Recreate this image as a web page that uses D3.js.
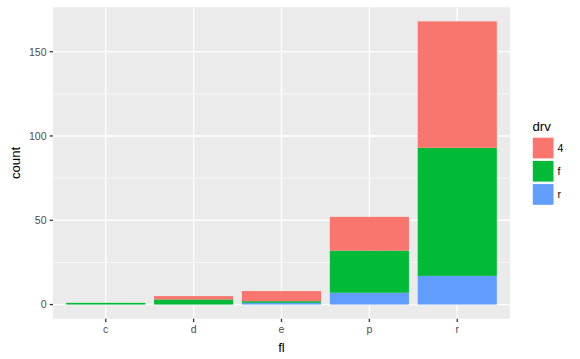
<!DOCTYPE html>
<html>
<head>
  <meta charset="utf-8">
  <title>Stacked bar: fl by drv</title>
  <style>
    html, body { margin: 0; padding: 0; background: #fff; }
    svg { display: block; font-family: "Liberation Sans", Arial, sans-serif; }
    .tick-label { font-size: 10.5px; fill: #4d4d4d; }
    .axis-title { font-size: 13.2px; fill: #000; }
  </style>
</head>
<body>
  <div id="chart"></div>
  <script src="https://d3js.org/d3.v7.min.js"></script>
  <script>
    // Data: counts of fuel type (fl) by drive train (drv)
    const fuels = ["c", "d", "e", "p", "r"];
    const drvLevels = ["4", "f", "r"];
    const count4 = [0, 2, 6, 20, 75];
    const countF = [1, 3, 1, 25, 76];
    const countR = [0, 0, 1, 7, 17];
    const yTicks = [0, 50, 100, 150];
    const yMinor = [25, 75, 125];

    const colors = { "4": "#F8766D", "f": "#00BA38", "r": "#619CFF" };

    const W = 580, H = 359;
    const panel = { left: 53, top: 7.2, right: 510, bottom: 318.7 };
    const tickLen = 3.3;

    const svg = d3.select("#chart").append("svg")
      .attr("width", W).attr("height", H);

    // Build rows and stack (ggplot puts first level on top)
    const rows = fuels.map((f, i) => ({ fl: f, "4": count4[i], "f": countF[i], "r": countR[i] }));
    const stack = d3.stack().keys(["r", "f", "4"]);
    const series = stack(rows);
    const maxTotal = d3.max(rows, d => d["4"] + d.f + d.r);

    const pad = maxTotal * 0.05;
    const y = d3.scaleLinear()
      .domain([-pad, maxTotal + pad])
      .range([panel.bottom, panel.top]);

    // discrete axis with 0.6 expansion each side
    const n = fuels.length;
    const x = d3.scaleLinear()
      .domain([0.4, n + 0.6])
      .range([panel.left, panel.right]);
    const barW = x(1.9) - x(1);

    // Panel background
    svg.append("rect")
      .attr("x", panel.left).attr("y", panel.top)
      .attr("width", panel.right - panel.left)
      .attr("height", panel.bottom - panel.top)
      .attr("fill", "#EBEBEB");

    // Grid lines
    svg.selectAll("line.minor").data(yMinor).enter().append("line")
      .attr("x1", panel.left).attr("x2", panel.right)
      .attr("y1", d => y(d)).attr("y2", d => y(d))
      .attr("stroke", "#fff").attr("stroke-width", 0.65);
    svg.selectAll("line.majory").data(yTicks).enter().append("line")
      .attr("x1", panel.left).attr("x2", panel.right)
      .attr("y1", d => y(d)).attr("y2", d => y(d))
      .attr("stroke", "#fff").attr("stroke-width", 1.3);
    svg.selectAll("line.majorx").data(fuels).enter().append("line")
      .attr("x1", (d, i) => x(i + 1)).attr("x2", (d, i) => x(i + 1))
      .attr("y1", panel.top).attr("y2", panel.bottom)
      .attr("stroke", "#fff").attr("stroke-width", 1.3);

    // Bars
    series.forEach(s => {
      svg.append("g").selectAll("rect").data(s).enter().append("rect")
        .attr("x", (d, i) => x(i + 1) - barW / 2)
        .attr("width", barW)
        .attr("y", d => y(d[1]))
        .attr("height", d => Math.max(0, y(d[0]) - y(d[1])))
        .attr("fill", colors[s.key]);
    });

    // Y axis ticks and labels
    const yAxis = svg.append("g");
    yAxis.selectAll("line").data(yTicks).enter().append("line")
      .attr("x1", panel.left - tickLen).attr("x2", panel.left)
      .attr("y1", d => y(d)).attr("y2", d => y(d))
      .attr("stroke", "#333").attr("stroke-width", 1.3);
    yAxis.selectAll("text").data(yTicks).enter().append("text")
      .attr("class", "tick-label")
      .attr("x", panel.left - tickLen - 3.2).attr("y", d => y(d) + 3.8)
      .attr("text-anchor", "end")
      .text(d => d);

    // X axis ticks and labels
    const xAxis = svg.append("g");
    xAxis.selectAll("line").data(fuels).enter().append("line")
      .attr("x1", (d, i) => x(i + 1)).attr("x2", (d, i) => x(i + 1))
      .attr("y1", panel.bottom).attr("y2", panel.bottom + tickLen)
      .attr("stroke", "#333").attr("stroke-width", 1.3);
    xAxis.selectAll("text").data(fuels).enter().append("text")
      .attr("class", "tick-label")
      .attr("x", (d, i) => x(i + 1)).attr("y", 333)
      .attr("text-anchor", "middle")
      .text(d => d);

    // Axis titles
    svg.append("text").attr("class", "axis-title")
      .attr("x", (panel.left + panel.right) / 2).attr("y", 352)
      .attr("text-anchor", "middle").text("fl");
    svg.append("text").attr("class", "axis-title")
      .attr("transform", `translate(19.5,${(panel.top + panel.bottom) / 2}) rotate(-90)`)
      .attr("text-anchor", "middle").text("count");

    // Legend
    const legend = svg.append("g").attr("transform", "translate(532.5,0)");
    legend.append("text").attr("class", "axis-title")
      .attr("x", 0).attr("y", 131).text("drv");
    const keyStep = 23.2, keySize = 20.7;
    drvLevels.forEach((lv, i) => {
      const ky = 137.7 + i * keyStep;
      legend.append("rect")
        .attr("x", 0.3).attr("y", ky)
        .attr("width", keySize).attr("height", keySize)
        .attr("fill", colors[lv]);
      legend.append("text").attr("class", "tick-label")
        .attr("x", 25).attr("y", ky + keySize / 2 + 3.8)
        .style("fill", "#000")
        .text(lv);
    });
  </script>
</body>
</html>
